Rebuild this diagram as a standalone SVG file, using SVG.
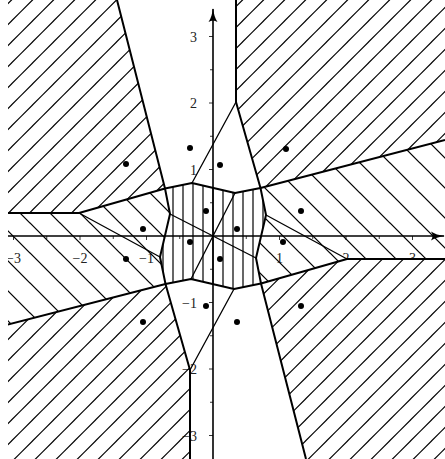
<svg xmlns="http://www.w3.org/2000/svg" width="445" height="459" viewBox="0 0 445 459">
<defs>
<pattern id="ne" patternUnits="userSpaceOnUse" x="0" y="0" width="21" height="21">
<path d="M0,11.5 L11.5,0 M11.5,21 L21,11.5" stroke="#000" stroke-width="1.2" stroke-linecap="square"/>
</pattern>
<pattern id="nw" patternUnits="userSpaceOnUse" x="0" y="0" width="30" height="30">
<path d="M17,0 L30,13 M0,13 L17,30" stroke="#000" stroke-width="1.2" stroke-linecap="square"/>
</pattern>
<pattern id="vl" patternUnits="userSpaceOnUse" x="0" y="0" width="10" height="10">
<path d="M3,0 L3,10" stroke="#000" stroke-width="1.2"/>
</pattern>
<clipPath id="frame"><rect x="8" y="0" width="437" height="459"/></clipPath>
<marker id="arr" viewBox="0 0 14 10" refX="13" refY="5" markerWidth="14" markerHeight="10" markerUnits="userSpaceOnUse" orient="auto">
<path d="M0,0.5 Q5,4 14,5 Q5,6 0,9.5 Q3,5 0,0.5 Z" fill="#000"/>
</marker>
<style>
.thick{fill:none;stroke:#000;stroke-width:2;stroke-linejoin:round}
.thin{fill:none;stroke:#000;stroke-width:1.3}
.ax{fill:none;stroke:#000;stroke-width:1.6}
.tk{stroke:#000;stroke-width:0.8}
.lab{font-family:"Liberation Serif","DejaVu Serif",serif;font-size:14px;fill:#222}
.dot{fill:#000}
</style>
</defs>
<g id="labels">
<text class="lab" x="197" y="41.5" text-anchor="end">3</text>
<text class="lab" x="197" y="108" text-anchor="end">2</text>
<text class="lab" x="197" y="174.5" text-anchor="end">1</text>
<text class="lab" x="197" y="307.5" text-anchor="end">−1</text>
<text class="lab" x="197" y="374" text-anchor="end">−2</text>
<text class="lab" x="197" y="440.5" text-anchor="end">−3</text>
<g clip-path="url(#frame)">
<text class="lab" x="13.5" y="263" text-anchor="middle">−3</text>
</g>
<text class="lab" x="80" y="263" text-anchor="middle">−2</text>
<text class="lab" x="146.5" y="263" text-anchor="middle">−1</text>
<text class="lab" x="279.5" y="263" text-anchor="middle">1</text>
<text class="lab" x="346" y="263" text-anchor="middle">2</text>
<text class="lab" x="412.5" y="263" text-anchor="middle">3</text>
</g>
<g id="regions" clip-path="url(#frame)">
<path id="r-topleft" d="M0,0 L117,0 L165,188.5 L79,213 L0,213 Z" fill="url(#ne)"/>
<path id="r-topright" d="M236,0 L445,0 L445,140 L260.5,188 L236,102 Z" fill="url(#ne)"/>
<path id="r-bottomright-bg" d="M445,259 L445,459 L306,459 L261,283.5 L347,259 Z" fill="#fff"/>
<path id="r-bottomright" d="M445,259 L445,459 L306,459 L261,283.5 L347,259 Z" fill="url(#ne)"/>
<path id="r-bottomleft" d="M0,326.5 L165.5,284 L190,370 L190,459 L0,459 Z" fill="url(#ne)"/>
<path id="r-left" d="M0,213 L79,213 L165,188.5 L170,214 L160,257 L165.5,284 L0,326.5 Z" fill="url(#nw)"/>
<path id="r-right" d="M260.5,188 L445,140 L445,259 L347,259 L261,283.5 L256,258 L266,215 Z" fill="url(#nw)"/>
<path id="r-center" d="M165,188.5 L192,183 L235,193 L260.5,188 L266,215 L256,258 L261,283.5 L234,289 L191,279 L165.5,284 L160,257 L170,214 Z" fill="url(#vl)"/>
</g>
<g id="connectors" clip-path="url(#frame)">
<path class="thick" d="M236,0 L236,102 L260.5,188 L445,140"/>
<path class="thick" d="M0,213 L79,213 L165,188.5 L117,0"/>
<path class="thick" d="M190,459 L190,370 L165.5,284 L0,326.5"/>
<path class="thick" d="M445,259 L347,259 L261,283.5 L306,459"/>
<path class="thick" d="M165,188.5 L192,183 L235,193 L260.5,188 L266,215 L256,258 L261,283.5 L234,289 L191,279 L165.5,284 L160,257 L170,214 Z"/>
<path class="thin" d="M236,102 L192,183 M79,213 L160,257 M190,370 L234,289 M347,259 L266,215"/>
<path class="thin" d="M235,193 L191,279 M170,214 L256,258"/>
</g>
<g id="axes">
<path class="ax" d="M8,236 L444,236" marker-end="url(#arr)"/>
<path class="ax" d="M213,459 L213,9" marker-end="url(#arr)"/>
<path class="tk" d="M13.5,236 v4 M46.75,236 v3 M80,236 v4 M113.25,236 v3 M146.5,236 v4 M179.75,236 v3 M246.25,236 v3 M279.5,236 v4 M312.75,236 v3 M346,236 v4 M379.25,236 v3 M412.5,236 v4"/>
<path class="tk" d="M213,36.5 h-4 M213,69.75 h-3 M213,103 h-4 M213,136.25 h-3 M213,169.5 h-4 M213,202.75 h-3 M213,269.25 h-3 M213,302.5 h-4 M213,335.75 h-3 M213,369 h-4 M213,402.25 h-3 M213,435.5 h-4"/>
</g>
<g id="points">
<circle class="dot" cx="301" cy="211" r="3"/>
<circle class="dot" cx="190" cy="148" r="3"/>
<circle class="dot" cx="126" cy="259" r="3"/>
<circle class="dot" cx="237" cy="322" r="3"/>
<circle class="dot" cx="286" cy="149" r="3"/>
<circle class="dot" cx="126" cy="164" r="3"/>
<circle class="dot" cx="143" cy="322" r="3"/>
<circle class="dot" cx="301" cy="306" r="3"/>
<circle class="dot" cx="220" cy="165" r="3"/>
<circle class="dot" cx="143" cy="229" r="3"/>
<circle class="dot" cx="206" cy="306" r="3"/>
<circle class="dot" cx="283" cy="242" r="3"/>
<circle class="dot" cx="237" cy="229" r="3"/>
<circle class="dot" cx="206" cy="211" r="3"/>
<circle class="dot" cx="190" cy="242" r="3"/>
<circle class="dot" cx="220" cy="259" r="3"/>
</g>
</svg>
